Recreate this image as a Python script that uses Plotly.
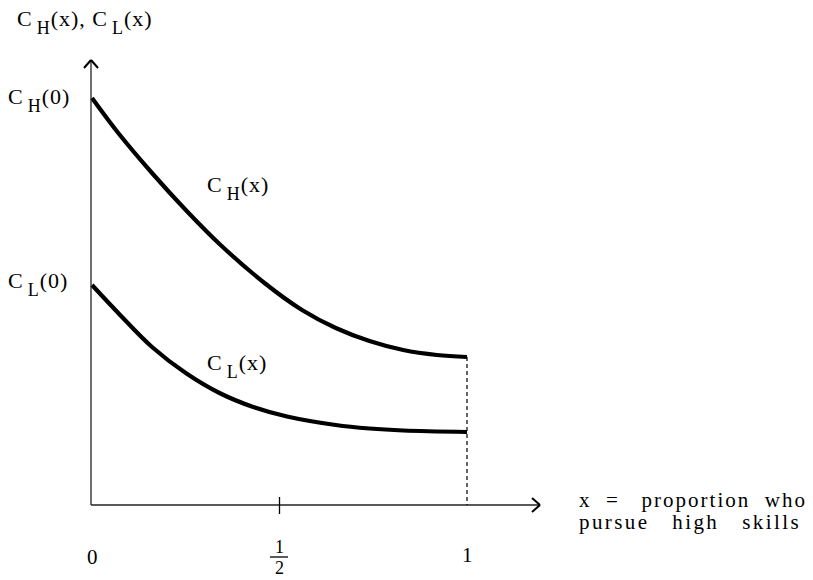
import plotly.graph_objects as go

# ---- data (arbitrary units) ----
x_h = [0.0, 0.07, 0.16, 0.25, 0.34, 0.46, 0.56, 0.65, 0.74, 0.83, 0.92, 1.0]
c_h = [4.07, 3.72, 3.32, 2.95, 2.61, 2.22, 1.95, 1.77, 1.64, 1.55, 1.50, 1.48]
x_l = [0.0, 0.07, 0.16, 0.25, 0.34, 0.43, 0.52, 0.65, 0.74, 0.83, 1.0]
c_l = [2.20, 1.92, 1.58, 1.32, 1.12, 0.98, 0.885, 0.80, 0.765, 0.745, 0.73]
tick_labels = ["0", "1", "2", "1"]

W, H = 813, 580
X0, XU = 92, 375.0   # pixel of x=0, pixels per unit
Y0, YU = 505, 100.0  # pixel of y=0, pixels per unit


def px(p):
    return (p - X0) / XU


def py(p):
    return (Y0 - p) / YU


FONT = "Liberation Serif"
fig = go.Figure()

fig.add_trace(go.Scatter(x=x_h, y=c_h, mode="lines", line=dict(color="black", width=4.2, shape="spline"),
                         showlegend=False, hoverinfo="skip"))
fig.add_trace(go.Scatter(x=x_l, y=c_l, mode="lines", line=dict(color="black", width=4.2, shape="spline"),
                         showlegend=False, hoverinfo="skip"))

shapes = []
axis_line = dict(color="#222", width=1.3)
shapes.append(dict(type="line", x0=px(91), y0=0, x1=px(540), y1=0, line=axis_line))
shapes.append(dict(type="line", x0=px(91), y0=0, x1=px(91), y1=py(60), line=axis_line))
arrow = dict(color="black", width=2)
shapes.append(dict(type="line", x0=px(540), y0=0, x1=px(532), y1=py(498), line=arrow))
shapes.append(dict(type="line", x0=px(540), y0=0, x1=px(532), y1=py(512), line=arrow))
shapes.append(dict(type="line", x0=px(91), y0=py(60), x1=px(84), y1=py(68), line=arrow))
shapes.append(dict(type="line", x0=px(91), y0=py(60), x1=px(98), y1=py(68), line=arrow))
shapes.append(dict(type="line", x0=0.5, y0=py(497), x1=0.5, y1=py(514), line=dict(color="black", width=1.3)))
shapes.append(dict(type="line", x0=x_h[-1], y0=c_h[-1], x1=x_h[-1], y1=0,
                   line=dict(color="black", width=1.2, dash="4px,3px")))
shapes.append(dict(type="line", x0=px(270), y0=py(557), x1=px(288), y1=py(557), line=dict(color="black", width=1.3)))

ann = []


def text(t, x, y, size=20, xanchor="left", align="left"):
    ann.append(dict(text=t, x=x, y=y, xref="x", yref="y", showarrow=False, xanchor=xanchor, yanchor="middle",
                    align=align, font=dict(family=FONT, size=size, color="black")))


def sp(t, ls=1, size=None, extra=""):
    st = "font-family:Liberation Serif;letter-spacing:%spx" % ls
    if size:
        st += ";font-size:%dpx" % size
    st += extra
    return '<span style="%s">%s</span>' % (st, t)


def lab(sub, arg):
    return (sp("C", 5) + "<sub>" + sp(sub, 1, 18, ";baseline-shift:-3px") + "</sub>" +
            sp("(" + arg + ")", 1))


text(lab("H", "x") + sp(", ", 1) + lab("L", "x"), px(15), py(22), size=22)
text(lab("H", "0"), px(6), py(100), size=22)
text(lab("L", "0"), px(6), py(284), size=22)
text(lab("H", "x"), px(205), py(188), size=22)
text(lab("L", "x"), px(205), py(366), size=22)
text(tick_labels[0], 0, py(557), size=21, xanchor="center")
text(tick_labels[3], 1, py(555), size=21, xanchor="center")
text(tick_labels[1], 0.5, py(547), size=18, xanchor="center")
text(tick_labels[2], 0.5, py(568), size=18, xanchor="center")
text(sp("x &nbsp;= &nbsp; proportion &nbsp;who", 2), px(577), py(500), size=21)
text(sp("pursue &nbsp;&nbsp;high &nbsp;&nbsp;skills", 2.4), px(577), py(522), size=21)

fig.update_layout(
    width=W, height=H, autosize=False,
    margin=dict(l=0, r=0, t=0, b=0),
    paper_bgcolor="white", plot_bgcolor="white",
    xaxis=dict(range=[px(0), px(W)], visible=False, fixedrange=True),
    yaxis=dict(range=[py(H), py(0)], visible=False, fixedrange=True),
    shapes=shapes, annotations=ann,
)

fig.write_html("out.html", config={"displayModeBar": False},
               post_script="document.body.style.margin='0';document.body.style.padding='0';")
